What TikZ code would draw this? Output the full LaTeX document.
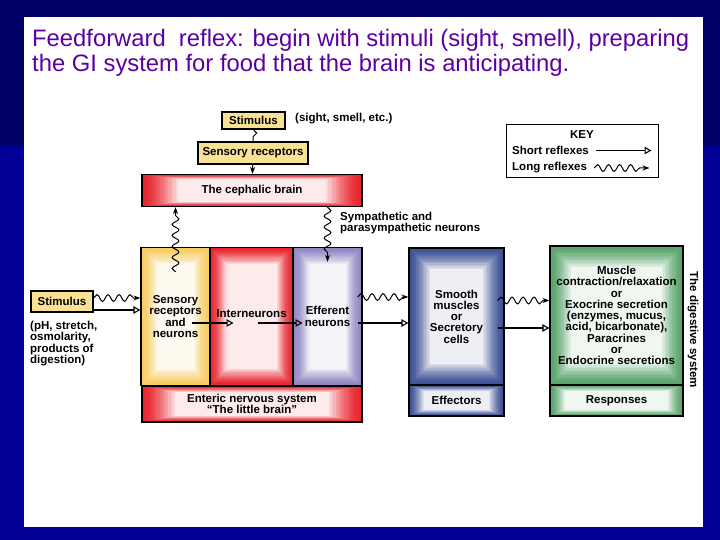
\documentclass[tikz,border=0pt]{standalone}
\usepackage{fontspec}
\setmainfont{Liberation Sans}
\usetikzlibrary{arrows.meta, calc, decorations.pathmorphing}

\definecolor{slidetop}{RGB}{0,0,102}
\definecolor{slidebot}{RGB}{0,0,150}
\definecolor{ttl}{RGB}{92,0,160}
\definecolor{pale}{RGB}{250,226,148}
\definecolor{ylw}{RGB}{246,204,96}
\definecolor{rd}{RGB}{232,36,46}
\definecolor{lav}{RGB}{146,134,194}
\definecolor{blu}{RGB}{60,80,148}
\definecolor{grn}{RGB}{88,164,106}

% framed colour ramp, colour at the border, white in the middle
\newcommand{\glowfill}[3]{%
  \foreach \k in {0,...,15}{%
    \pgfmathsetmacro{\mix}{100*(1-(\k/16)^1.5)}%
    \fill[#1!\mix!white]
      ($(path picture bounding box.south west)+(\k*#2,\k*#3)$) rectangle
      ($(path picture bounding box.north east)-(\k*#2,\k*#3)$);
  }}

\begin{document}
\begin{tikzpicture}[
  x=1bp, y=-1bp,
  >=Stealth,
  every node/.style={font=\fontsize{11.5bp}{11.3bp}\selectfont\bfseries, inner sep=1pt},
  % Node styles
  glow/.style n args={3}{rectangle, draw=black, line width=1.2bp,
                  align=center, path picture={\glowfill{#1}{#2}{#3}}},
  stimbox/.style={rectangle, draw=black, line width=1.2bp, fill=pale,
                  align=center, inner sep=2pt},
  % Arrow styles
  wave/.style   ={line width=1bp, decorate,
                  decoration={snake, amplitude=3.4bp, segment length=11bp}},
  long/.style   ={wave, -{Stealth[length=7bp, width=5bp]},
                  decoration={post length=5bp}},
  short/.style  ={-{Triangle[open, length=7bp, width=7.5bp]}, line width=1.1bp}
]
\useasboundingbox (0,0) rectangle (720,540);

% =========================== SLIDE ===========================
\fill[slidetop] (0,0) rectangle (720,145);
\fill[slidebot] (0,145) rectangle (720,540);
\fill[white] (24,17) rectangle (703,527);

\node[anchor=base west, inner sep=0pt, text=ttl,
      font=\fontsize{23.8bp}{25bp}\selectfont] (title1) at (32,47)
  {Feedforward~ reflex: begin with stimuli (sight, smell), preparing};
\node[anchor=base west, inner sep=0pt, text=ttl,
      font=\fontsize{23.8bp}{25bp}\selectfont] (title2) at (32,72)
  {the GI system for food that the brain is anticipating.};

% =========================== CEPHALIC PART ===========================
\node[stimbox, minimum width=63bp, minimum height=17bp] (stimtop) at (253.5,120.5) {Stimulus};
\node[anchor=west] (sightlbl) at (294,118.5) {(sight, smell, etc.)};
\node[stimbox, minimum width=110bp, minimum height=22bp] (senstop) at (253,153) {Sensory receptors};
\node[glow={rd}{2.4bp}{0.3bp}, minimum width=220bp, minimum height=32bp] (brain) at (252,190.5)
  {The cephalic brain};
\node[anchor=west, align=left] (symp) at (339,223) {Sympathetic and\\parasympathetic neurons};

\draw[wave] (stimtop) -- (senstop);
\draw[long] (senstop) -- (brain);

% =========================== ENTERIC BLOCK ===========================
\node[glow={ylw}{1.1bp}{1.1bp}, minimum width=69bp, minimum height=138bp] (sens) at (175.5,316.5)
  {Sensory\\receptors\\and\\neurons};
\node[glow={rd}{1.1bp}{1.1bp}, minimum width=83bp, minimum height=138bp] (inter) at (251.5,316.5)
  {\raisebox{5bp}{Interneurons}};
\node[glow={lav}{1.1bp}{1.1bp}, minimum width=69bp, minimum height=138bp] (eff) at (327.5,316.5)
  {Efferent\\neurons};
\node[glow={rd}{2.2bp}{0.4bp}, minimum width=220bp, minimum height=36bp] (ens) at (252,404)
  {Enteric nervous system\\``The little brain''};

\draw[long] ([yshift=-25bp]sens.north) -- (sens.north |- brain.south);
\draw[long] (eff.north |- brain.south) -- ([yshift=-15bp]eff.north);

% =========================== EFFECTORS / RESPONSES ===========================
\node[glow={blu}{1.4bp}{1.4bp}, minimum width=95bp, minimum height=137bp] (smooth) at (456.5,316.5)
  {Smooth\\muscles\\or\\Secretory\\cells};
\node[glow={blu}{1bp}{0.4bp}, minimum width=95bp, minimum height=31bp] (effect) at (456.5,400.5)
  {Effectors};
\node[glow={grn}{1.4bp}{1.4bp}, minimum width=133bp, minimum height=139bp] (resp) at (616.5,315.5)
  {Muscle\\contraction/relaxation\\or\\Exocrine secretion\\(enzymes, mucus,\\acid, bicarbonate),\\Paracrines\\or\\Endocrine secretions};
\node[glow={grn}{1bp}{0.4bp}, minimum width=133bp, minimum height=31bp] (resplbl) at (616.5,400.5)
  {Responses};
\node[rotate=-90] (dig) at (693,330) {The digestive system};

% =========================== LOCAL STIMULUS ===========================
\node[stimbox, minimum width=62bp, minimum height=21bp] (stim) at (62,301.5) {Stimulus};
\node[anchor=north west, align=left] (stimnote) at (29,320)
  {(pH, stretch,\\osmolarity,\\products of\\digestion)};

% reflex arcs
\draw[long]  ([yshift=3.5bp]stim.east) -- ([yshift=3.5bp]stim.east -| sens.west);
\draw[short] ([yshift=-8.5bp]stim.east) -- ([yshift=-8.5bp]stim.east -| sens.west);
\draw[short] ([xshift=16bp,yshift=-6.5bp]sens.center) -- ([xshift=-18bp,yshift=-6.5bp]inter.center);
\draw[short] ([xshift=6bp,yshift=-6.5bp]inter.center) -- ([xshift=-25bp,yshift=-6.5bp]eff.center);
\draw[long]  ([xshift=-5bp,yshift=19.5bp]eff.east) -- ([yshift=19.5bp]eff.east -| smooth.west);
\draw[short] ([xshift=-5bp,yshift=-6.5bp]eff.east) -- ([yshift=-6.5bp]eff.east -| smooth.west);
\draw[long]  ([xshift=-7bp,yshift=16bp]smooth.east) -- ([yshift=16bp]smooth.east -| resp.west);
\draw[short] ([xshift=-7bp,yshift=-11.5bp]smooth.east) -- ([yshift=-11.5bp]smooth.east -| resp.west);

% =========================== KEY ===========================
\node[draw=black, line width=1bp, minimum width=152bp, minimum height=53bp] (key) at (582,151.5) {};
\node (keyttl) at (582,135) {KEY};
\node[anchor=west] (shortlbl) at (511,150.5) {Short reflexes};
\node[anchor=west] (longlbl) at (511,168) {Long reflexes};
\draw[short] ([xshift=6bp]shortlbl.east) -- ([xshift=-7bp]shortlbl.east -| key.east);
\draw[long]  ([xshift=6bp]longlbl.east) -- ([xshift=-9bp]longlbl.east -| key.east);

\end{tikzpicture}
\end{document}
